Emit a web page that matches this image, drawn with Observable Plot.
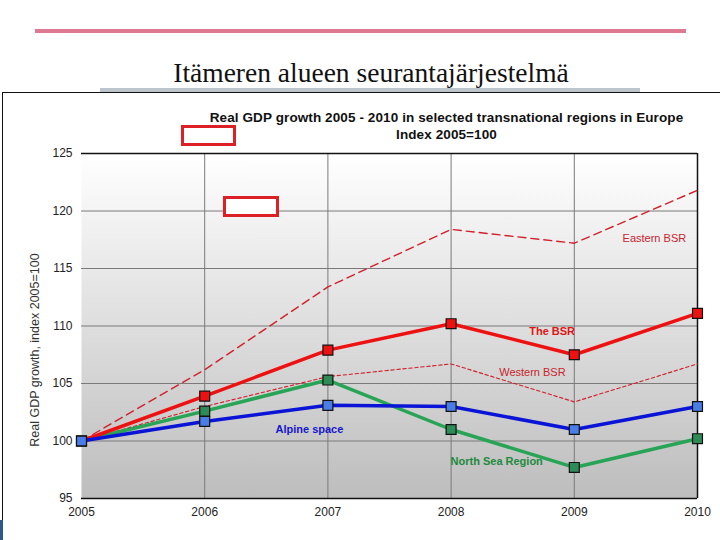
<!DOCTYPE html>
<html>
<head>
<meta charset="utf-8">
<script src="https://cdn.jsdelivr.net/npm/d3@7"></script>
<script src="https://cdn.jsdelivr.net/npm/@observablehq/plot@0.6"></script>
<style>
  html, body { margin: 0; padding: 0; background: #fff; }
  #page { position: relative; width: 720px; height: 540px; overflow: hidden; background: #fff; }
  #rule { position: absolute; left: 35px; top: 29px; width: 651px; height: 4px; background: #df7991; }
  #title { position: absolute; left: 0; width: 742px; top: 57px; text-align: center;
           font-family: "Liberation Serif", "DejaVu Serif", serif; font-size: 27.5px; color: #111; }
  #strip { position: absolute; left: 100px; top: 88px; width: 540px; height: 4px; background: #bcc4cc; }
  #box { position: absolute; left: 2px; top: 92px; width: 740px; height: 460px;
         border-left: 1.5px solid #111; border-top: 1.5px solid #111; background: #fff; }
  #chart { position: absolute; left: -3.5px; top: -1.5px; }
  #ctitle { position: absolute; left: 196px; width: 495px; top: 16px; text-align: center;
            font-family: "Liberation Sans", Arial, sans-serif; font-weight: bold; font-size: 13.5px;
            line-height: 17px; color: #111; letter-spacing: 0.1px; }
  .redbox { position: absolute; border: 3px solid #dd1f26; background: #fff; }
  #leftblue { position: absolute; left: 0; top: 520px; width: 3px; height: 20px; background: #2a5a8a; }
</style>
</head>
<body>
<div id="page">
  <div id="rule"></div>
  <div id="title">Itämeren alueen seurantajärjestelmä</div>
  <div id="strip"></div>
  <div id="box">
    <div id="chart"></div>
    <div id="ctitle">Real GDP growth 2005 - 2010 in selected transnational regions in Europe<br>Index 2005=100</div>
    <div class="redbox" style="left:178px; top:32px; width:49px; height:15px;"></div>
    <div class="redbox" style="left:220px; top:103px; width:50px; height:15px;"></div>
  </div>
  <div id="leftblue"></div>
</div>
<script>
const years = [2005, 2006, 2007, 2008, 2009, 2010];
const easternBSR = [100, 106.2, 113.4, 118.4, 117.2, 121.8];
const theBSR     = [100, 103.9, 107.9, 110.2, 107.5, 111.1];
const westernBSR = [100, 103.0, 105.6, 106.7, 103.4, 106.7];
const alpine     = [100, 101.7, 103.1, 103.0, 101.0, 103.0];
const northSea   = [100, 102.6, 105.3, 101.0, 97.7, 100.2];

const yTicks = [95, 100, 105, 110, 115, 120, 125];
const xTicks = years;

const labelNames = ["Eastern BSR", "The BSR", "Western BSR", "Alpine space", "North Sea Region"];
const labelX = [2009.65, 2008.82, 2008.66, 2006.85, 2008.37];
const labelY = [117.6, 109.5, 106.0, 101.0, 98.2];

const rows = (vals) => years.map((yr, i) => ({year: yr, value: vals[i]}));

const defs = () => {
  const d = d3.create("svg:defs");
  const g = d.append("linearGradient").attr("id", "bg").attr("x1", 0).attr("x2", 0).attr("y1", 0).attr("y2", 1);
  g.append("stop").attr("offset", "0%").attr("stop-color", "#ffffff");
  g.append("stop").attr("offset", "100%").attr("stop-color", "#bdbdbd");
  return d.node();
};

const lineFont = {fontFamily: "Liberation Sans, Arial, sans-serif", fontSize: 11};

const plot = Plot.plot({
  width: 724,
  height: 449,
  marginLeft: 81,
  marginRight: 27,
  marginTop: 61,
  marginBottom: 43,
  style: {fontFamily: "Liberation Sans, Arial, sans-serif", fontSize: "12px", color: "#222", background: "transparent"},
  x: {domain: [2005, 2010], ticks: xTicks, tickFormat: "d", label: null, tickSize: 0, tickPadding: 9},
  y: {domain: [95, 125], ticks: yTicks, label: null, tickSize: 0, tickPadding: 9},
  marks: [
    defs,
    Plot.frame({fill: "url(#bg)", stroke: null}),
    Plot.gridY(yTicks.filter(t => t > 95 && t < 125), {stroke: "#7a7a7a", strokeOpacity: 1, strokeWidth: 1}),
    Plot.gridX(xTicks.filter(t => t > 2005 && t < 2010), {stroke: "#7a7a7a", strokeOpacity: 1, strokeWidth: 1}),
    Plot.ruleY([125], {stroke: "#111", strokeWidth: 1.5}),
    Plot.ruleY([95], {stroke: "#111", strokeWidth: 1.5}),
    Plot.ruleX([2010], {stroke: "#111", strokeWidth: 1.5}),
    Plot.axisX({ticks: xTicks, tickFormat: "d", tickSize: 0, tickPadding: 9, fill: "#222", fontSize: 12}),
    Plot.axisY({ticks: yTicks, tickSize: 0, tickPadding: 9, fill: "#222", fontSize: 12}),
    Plot.text(["Real GDP growth, index 2005=100"], {frameAnchor: "left", textAnchor: "middle", rotate: -90, dx: -47, dy: 24, fontSize: 12.5, fill: "#333"}),
    Plot.line(rows(easternBSR), {x: "year", y: "value", stroke: "#d1202a", strokeWidth: 1.4, strokeDasharray: "8,5"}),
    Plot.line(rows(westernBSR), {x: "year", y: "value", stroke: "#d1202a", strokeWidth: 1.1, strokeDasharray: "3.5,2.5"}),
    Plot.line(rows(northSea), {x: "year", y: "value", stroke: "#27a455", strokeWidth: 3.5}),
    Plot.line(rows(theBSR), {x: "year", y: "value", stroke: "#ee1111", strokeWidth: 3.5}),
    Plot.line(rows(alpine), {x: "year", y: "value", stroke: "#0a14d6", strokeWidth: 3.5}),
    Plot.dot(rows(northSea), {x: "year", y: "value", symbol: "square", r: 5.6, fill: "#2e8b57", stroke: "#111", strokeWidth: 1.2}),
    Plot.dot(rows(theBSR), {x: "year", y: "value", symbol: "square", r: 5.6, fill: "#ee1111", stroke: "#111", strokeWidth: 1.2}),
    Plot.dot(rows(alpine), {x: "year", y: "value", symbol: "square", r: 5.6, fill: "#4a7ee6", stroke: "#111", strokeWidth: 1.2}),
    Plot.text([0], {x: () => labelX[0], y: () => labelY[0], text: () => labelNames[0], fill: "#c8242e", ...lineFont}),
    Plot.text([1], {x: () => labelX[1], y: () => labelY[1], text: () => labelNames[1], fill: "#dd1515", fontWeight: "bold", ...lineFont}),
    Plot.text([2], {x: () => labelX[2], y: () => labelY[2], text: () => labelNames[2], fill: "#c8242e", ...lineFont}),
    Plot.text([3], {x: () => labelX[3], y: () => labelY[3], text: () => labelNames[3], fill: "#1616cc", fontWeight: "bold", ...lineFont}),
    Plot.text([4], {x: () => labelX[4], y: () => labelY[4], text: () => labelNames[4], fill: "#1e8a3c", fontWeight: "bold", ...lineFont})
  ]
});
document.getElementById("chart").appendChild(plot);
</script>
</body>
</html>
